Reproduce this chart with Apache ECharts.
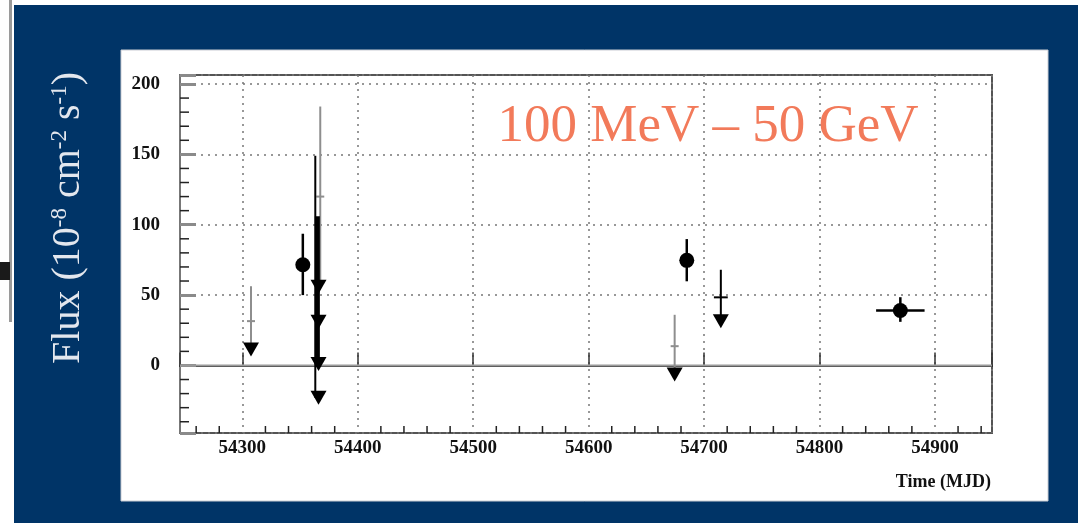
<!DOCTYPE html>
<html>
<head>
<meta charset="utf-8">
<title>Flux 100 MeV – 50 GeV</title>
<script src="https://cdn.jsdelivr.net/npm/echarts@6/dist/echarts.min.js"></script>
<style>
  html, body { margin: 0; padding: 0; background: #fff; }
  #chart { width: 1078px; height: 523px; }
</style>
</head>
<body>
<div id="chart"></div>
<script>
// 坐标轴范围
const X_MIN = 54246, X_MAX = 54949.4;
const Y_MIN = -48, Y_MAX = 206.4;

// 主刻度标签
const xTicks = [54300, 54400, 54500, 54600, 54700, 54800, 54900];
const yTicks = [0, 50, 100, 150, 200];

// 探测点: MJD, flux, 下限, 上限, 时间半宽
const detections = [
  [54352.4, 71.6, 50, 93.6, 3],
  [54685.0, 74.7, 59.8, 89.8, 3],
  [54870.0, 39.0, 31.0, 48.5, 21]
];
// 灰色(低显著性)测量: MJD, flux, 下限, 上限
const grayPoints = [
  [54307.5, 31.5, 15.5, 56.3],
  [54367.5, 120, 56, 184],
  [54674.5, 13.7, -5, 36]
];
// 上限(倒三角): MJD, flux
const upperLimits = [
  [54307.5, 11.3],
  [54366.0, 56],
  [54366.0, 31],
  [54366.0, 1],
  [54366.0, -23],
  [54674.5, -6.5],
  [54714.5, 31.5]
];
// 黑色细误差棒: MJD, 下限, 上限
const thinBars = [
  [54363.2, -23, 149],
  [54714.5, 31.5, 68]
];
// 黑色粗误差棒: MJD, 下限, 上限
const thickBars = [
  [54365.0, 0, 106]
];
// 无标记的中心值: MJD, flux, 时间半宽
const blackCenters = [
  [54714.5, 48.4, 6]
];

// 次刻度
const xMinor = [];
for (let v = 54260; v < X_MAX; v += 20) if (v % 100 !== 0) xMinor.push(v);
const yMinor = [];
for (let v = -40; v < Y_MAX; v += 10) if (v % 50 !== 0) yMinor.push(v);

const SERIF = '"Liberation Serif", "DejaVu Serif", serif';

// 竖直误差棒
function vBar(color, width) {
  return function (params, api) {
    const x = api.value(0);
    const lo = api.coord([x, api.value(1)]);
    const hi = api.coord([x, api.value(2)]);
    return {
      type: 'line',
      shape: { x1: lo[0], y1: lo[1], x2: hi[0], y2: hi[1] },
      style: { stroke: color, lineWidth: width }
    };
  };
}

const chart = echarts.init(document.getElementById('chart'));

const option = {
  animation: false,
  backgroundColor: '#ffffff',
  graphic: [
    { type: 'rect', z: -10, shape: { x: 14, y: 5, width: 1064, height: 518 }, style: { fill: '#003467' } },
    { type: 'rect', z: -10, shape: { x: 9, y: 0, width: 3, height: 322 }, style: { fill: '#9a9a9a' } },
    { type: 'rect', z: -10, shape: { x: 0, y: 262, width: 10, height: 18 }, style: { fill: '#1a1a1a' } },
    { type: 'rect', z: -9, shape: { x: 121, y: 50, width: 927, height: 451 }, style: { fill: '#ffffff', stroke: '#c9ccd3', lineWidth: 1 } },
    {
      type: 'text', z: 5, x: 708, y: 127,
      style: {
        text: '100 MeV – 50 GeV', fill: '#f27a5a', font: '53px ' + SERIF,
        textAlign: 'center', textVerticalAlign: 'middle'
      }
    },
    {
      type: 'text', z: 5, x: 991, y: 482,
      style: {
        text: 'Time (MJD)', fill: '#111', font: 'bold 18px ' + SERIF,
        textAlign: 'right', textVerticalAlign: 'middle'
      }
    },
    {
      type: 'text', z: 5, x: 68, y: 218, rotation: Math.PI / 2,
      style: {
        text: 'Flux (10{sup|-8} cm{sup|-2} s{sup|-1})',
        fill: '#e3e7ee', font: '40px ' + SERIF,
        textAlign: 'center', textVerticalAlign: 'middle',
        rich: {
          sup: { fontSize: 23, fontFamily: SERIF, fill: '#e3e7ee', verticalAlign: 'top', lineHeight: 40 }
        }
      }
    }
  ],
  grid: {
    left: 180, top: 75, width: 812, height: 358,
    show: true, borderColor: '#555', borderWidth: 2, backgroundColor: 'transparent'
  },
  xAxis: {
    type: 'value', min: X_MIN, max: X_MAX,
    minInterval: 100, maxInterval: 100, splitNumber: 7,
    axisLine: { show: true, lineStyle: { color: '#222', width: 2 } },
    axisTick: { show: true, inside: true, length: 13, lineStyle: { color: '#333', width: 1.5 } },
    axisLabel: {
      margin: 6, fontFamily: SERIF, fontWeight: 'bold', fontSize: 19, color: '#111',
      formatter: v => (xTicks.indexOf(v) >= 0 ? String(v) : '')
    },
    splitLine: { show: true, lineStyle: { color: '#777', width: 1.5, type: [2, 5] } }
  },
  yAxis: {
    type: 'value', min: Y_MIN, max: Y_MAX,
    minInterval: 50, maxInterval: 50, splitNumber: 5,
    axisLine: { show: true, lineStyle: { color: '#777', width: 2 } },
    axisTick: { show: true, inside: true, length: 16, lineStyle: { color: '#8a8a8a', width: 3 } },
    axisLabel: {
      margin: 20, fontFamily: SERIF, fontWeight: 'bold', fontSize: 19, color: '#111',
      formatter: v => (yTicks.indexOf(v) >= 0 ? String(v) : '')
    },
    splitLine: { show: true, lineStyle: { color: '#777', width: 1.5, type: [2, 5] } }
  },
  series: [
    {
      // x 次刻度
      type: 'custom', z: 2, silent: true, clip: false,
      data: xMinor.map(v => [v, Y_MIN]),
      renderItem: (params, api) => {
        const p = api.coord([api.value(0), api.value(1)]);
        return { type: 'line', shape: { x1: p[0], y1: p[1], x2: p[0], y2: p[1] - 7 }, style: { stroke: '#222', lineWidth: 1.5 } };
      }
    },
    {
      // y 次刻度
      type: 'custom', z: 2, silent: true, clip: false,
      data: yMinor.map(v => [X_MIN, v]),
      renderItem: (params, api) => {
        const p = api.coord([api.value(0), api.value(1)]);
        return { type: 'line', shape: { x1: p[0], y1: p[1], x2: p[0] + 9, y2: p[1] }, style: { stroke: '#222', lineWidth: 1.5 } };
      }
    },
    {
      // 零线
      type: 'custom', z: 2, silent: true,
      data: [[X_MIN, 0]],
      renderItem: (params, api) => {
        const a = api.coord([X_MIN, 0]);
        const b = api.coord([X_MAX, 0]);
        return { type: 'line', shape: { x1: a[0], y1: a[1], x2: b[0], y2: b[1] }, style: { stroke: '#9a9a9a', lineWidth: 2 } };
      }
    },
    {
      // 灰色测量
      type: 'custom', z: 3, silent: true,
      data: grayPoints,
      renderItem: (params, api) => {
        const x = api.value(0);
        const lo = api.coord([x, api.value(2)]);
        const hi = api.coord([x, api.value(3)]);
        const c = api.coord([x, api.value(1)]);
        return {
          type: 'group',
          children: [
            { type: 'line', shape: { x1: lo[0], y1: lo[1], x2: hi[0], y2: hi[1] }, style: { stroke: '#8e8e8e', lineWidth: 2 } },
            { type: 'line', shape: { x1: c[0] - 4, y1: c[1], x2: c[0] + 4, y2: c[1] }, style: { stroke: '#8e8e8e', lineWidth: 2 } }
          ]
        };
      }
    },
    {
      type: 'custom', z: 4, silent: true,
      data: thinBars,
      renderItem: vBar('#000', 2)
    },
    {
      type: 'custom', z: 4, silent: true,
      data: thickBars,
      renderItem: vBar('#000', 5)
    },
    {
      // 无标记中心值
      type: 'custom', z: 4, silent: true,
      data: blackCenters,
      renderItem: (params, api) => {
        const x = api.value(0), y = api.value(1), dx = api.value(2);
        const a = api.coord([x - dx, y]);
        const b = api.coord([x + dx, y]);
        return { type: 'line', shape: { x1: a[0], y1: a[1], x2: b[0], y2: b[1] }, style: { stroke: '#000', lineWidth: 2 } };
      }
    },
    {
      // 探测点误差棒
      type: 'custom', z: 4, silent: true,
      data: detections,
      renderItem: (params, api) => {
        const x = api.value(0), y = api.value(1), dx = api.value(4);
        const lo = api.coord([x, api.value(2)]);
        const hi = api.coord([x, api.value(3)]);
        const l = api.coord([x - dx, y]);
        const r = api.coord([x + dx, y]);
        return {
          type: 'group',
          children: [
            { type: 'line', shape: { x1: lo[0], y1: lo[1], x2: hi[0], y2: hi[1] }, style: { stroke: '#000', lineWidth: 2.5 } },
            { type: 'line', shape: { x1: l[0], y1: l[1], x2: r[0], y2: r[1] }, style: { stroke: '#000', lineWidth: 2.5 } }
          ]
        };
      }
    },
    {
      type: 'scatter', z: 5, silent: true,
      data: detections.map(d => [d[0], d[1]]),
      symbol: 'circle', symbolSize: 15,
      itemStyle: { color: '#000', opacity: 1 }
    },
    {
      type: 'scatter', z: 5, silent: true,
      data: upperLimits,
      symbol: 'path://M0,0 L14,0 L7,12 Z', symbolSize: [16, 14],
      itemStyle: { color: '#000', opacity: 1 }
    }
  ]
};

chart.setOption(option);
</script>
</body>
</html>
